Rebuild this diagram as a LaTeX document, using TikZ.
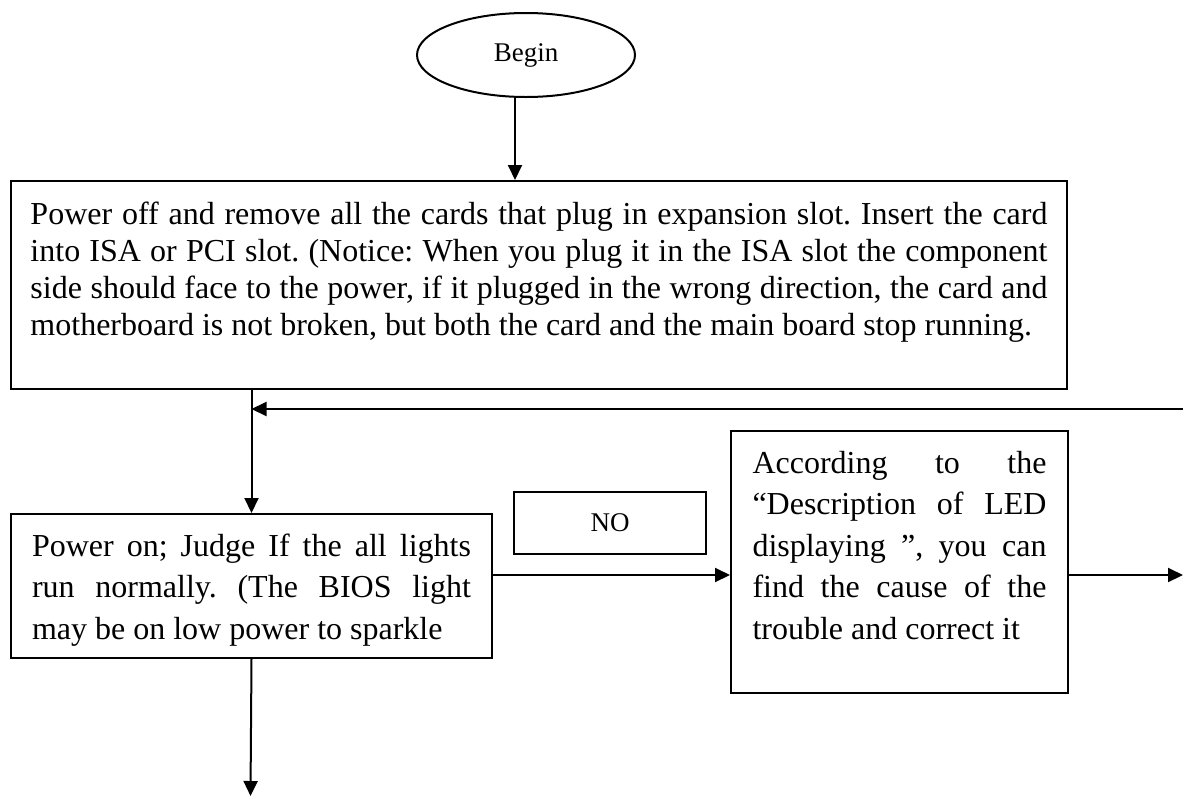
\documentclass[tikz,border=0pt]{standalone}
\usepackage{fontspec}
\setmainfont{Liberation Serif}
\usetikzlibrary{arrows.meta,shapes.geometric}
% #1 box height, #2 text width, #3 line spacing, #4 top gap, #5 text
\newcommand{\bxtext}[5]{\parbox[c][#1][t]{#2}{\fontsize{32}{#3}\selectfont\frenchspacing\vspace*{#4}\strut #5}}
\begin{document}
\begin{tikzpicture}[x=1pt,y=-1pt,
  stepbox/.style={draw, line width=2pt, rectangle, inner sep=0pt, anchor=north west},
  arr/.style={line width=2pt, -{Triangle[length=15pt,width=14pt]}},
  small/.style={font=\fontsize{27}{32}\selectfont}]
\useasboundingbox (0,0) rectangle (1183,796);

\node[draw, ellipse, line width=2pt, minimum width=218pt, minimum height=84pt, inner sep=0pt, small] (begin) at (526,55) {Begin};

\node[stepbox, minimum width=1056pt, minimum height=208pt] (b1) at (10,180)
 {\bxtext{208pt}{1017pt}{37pt}{17.1pt}{Power off and remove all the cards that plug in expansion slot. Insert the card\linebreak
 into ISA or PCI slot. (Notice: When you plug it in the ISA slot the component\linebreak
 side should face to the power, if it plugged in the wrong direction, the card and\linebreak
 motherboard is not broken, but both the card and the main board stop running.}};

\node[stepbox, minimum width=481pt, minimum height=144pt] (judge) at (10,513)
 {\bxtext{144pt}{439pt}{41.5pt}{12.95pt}{Power on; Judge If the all lights\linebreak
 run normally. (The BIOS light\linebreak
 may be on low power to sparkle}};

\node[stepbox, minimum width=337pt, minimum height=262pt] (led) at (730,430)
 {\bxtext{262pt}{294pt}{41.5pt}{12.95pt}{According to the\linebreak
 “Description of LED\linebreak
 displaying ”, you can\linebreak
 find the cause of the\linebreak
 trouble and correct it}};

\node[draw, line width=2pt, minimum width=192pt, minimum height=62pt, inner sep=0pt, small] (no) at (610,523) {NO};

\coordinate (fbin) at (1183,409);
\coordinate (ledout) at (1183,575);
\coordinate (endpt) at (250.5,796);

\draw[arr] ([xshift=-11pt]begin.south) -- ([xshift=-11pt]begin.south |- b1.north);
\draw[arr] (b1.south -| judge.north) -- (judge.north);
\draw[arr] (fbin) -- (fbin -| judge.north);
\draw[arr] (judge.east |- ledout) -- (led.west |- ledout);
\draw[arr] (led.east |- ledout) -- (ledout);
\draw[arr] (judge.south) -- (endpt);
\end{tikzpicture}
\end{document}
